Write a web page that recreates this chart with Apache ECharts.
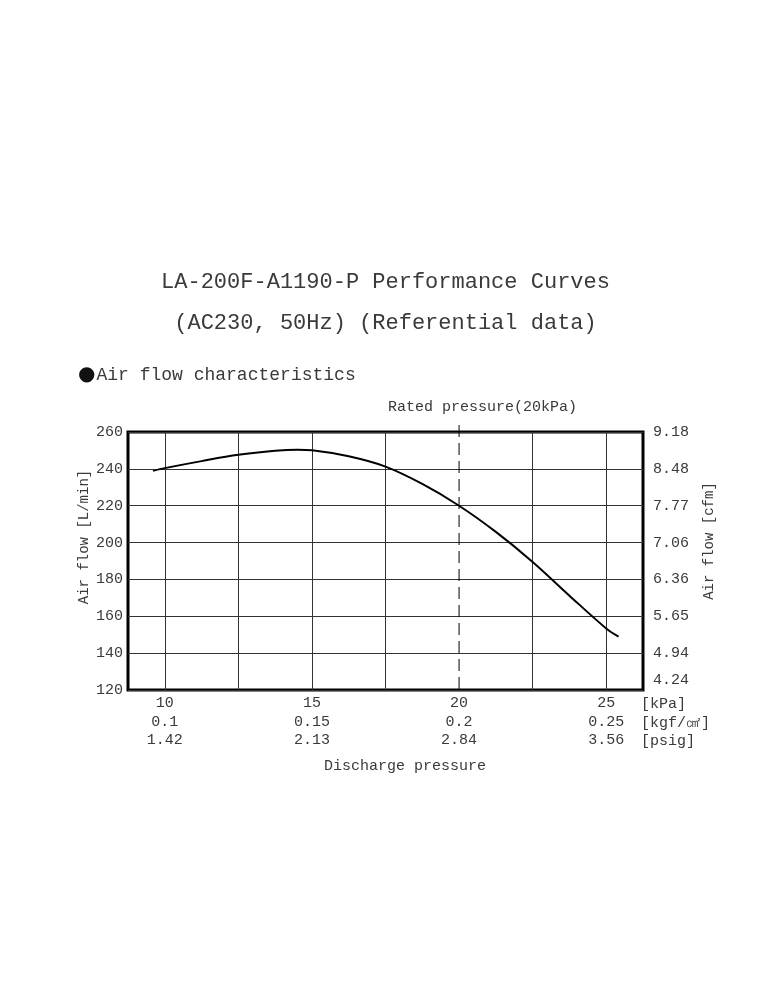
<!DOCTYPE html>
<html>
<head>
<meta charset="utf-8">
<script src="https://cdn.jsdelivr.net/npm/echarts@6/dist/echarts.min.js"></script>
<style>
html,body{margin:0;padding:0;background:#fff;}
#chart{width:771px;height:1000px;}
</style>
</head>
<body>
<div id="chart"></div>
<script>
// ---- data ----
const pressureKPa = [9.6, 10, 11.25, 12.5, 13.75, 14.5, 15, 16.25, 17.5, 18.75, 20, 21.25, 22.5, 23.75, 25, 25.42];
const airFlowLmin = [238.9, 240.4, 244.2, 247.6, 249.8, 250.4, 250.1, 246.8, 241.2, 231.8, 220, 205.8, 189.5, 171.2, 153.4, 149];
const xGridLines = [10, 12.5, 15, 17.5, 22.5, 25];
const xTickKPa = [10, 15, 20, 25];
const xTickKgf = ['0.1', '0.15', '0.2', '0.25'];
const xTickPsig = ['1.42', '2.13', '2.84', '3.56'];
const yLeftTicks = [120, 140, 160, 180, 200, 220, 240, 260];
const yRightLabels = ['4.24', '4.94', '5.65', '6.36', '7.06', '7.77', '8.48', '9.18'];
const ratedPressure = 20;
const ratedLine = [[ratedPressure, 0], [ratedPressure, 1]];

const FONT = '"Liberation Mono", "DejaVu Sans Mono", monospace';
const TXT = '#3a3a3a';

const chart = echarts.init(document.getElementById('chart'));
chart.setOption({
  backgroundColor: '#fff',
  animation: false,
  title: [
    {text: 'LA-200F-A1190-P Performance Curves', left: 'center', top: 266,
     textStyle: {fontFamily: FONT, fontSize: 22, fontWeight: 'normal', color: TXT}},
    {text: '(AC230, 50Hz) (Referential data)', left: 'center', top: 307,
     textStyle: {fontFamily: FONT, fontSize: 22, fontWeight: 'normal', color: TXT}},
    {text: '{b|●}Air flow characteristics', left: 73, top: 360,
     textStyle: {fontFamily: FONT, fontSize: 18, fontWeight: 'normal', color: TXT,
       rich: {b: {fontSize: 20, color: '#111', fontFamily: 'DejaVu Sans', padding: [0, 1, 0, 0]}}}},
    {text: 'Rated pressure(20kPa)', left: 383, top: 395,
     textStyle: {fontFamily: FONT, fontSize: 15, fontWeight: 'normal', color: TXT}},
    {text: '[kPa]\n[kgf/㎠]\n[psig]', left: 636, top: 690,
     textStyle: {fontFamily: FONT, fontSize: 15, fontWeight: 'normal', color: TXT, lineHeight: 18.5}},
    {text: 'Discharge pressure', left: 319, top: 754,
     textStyle: {fontFamily: FONT, fontSize: 15, fontWeight: 'normal', color: TXT}}
  ],
  graphic: [
    {type: 'text', x: 84, y: 537, rotation: Math.PI / 2,
     style: {text: 'Air flow [L/min]', font: '14px ' + FONT, fill: TXT, align: 'center', verticalAlign: 'middle'}},
    {type: 'text', x: 709, y: 541, rotation: Math.PI / 2,
     style: {text: 'Air flow [cfm]', font: '14px ' + FONT, fill: TXT, align: 'center', verticalAlign: 'middle'}}
  ],
  grid: [
    {left: 128, right: 128, top: 432, bottom: 310, show: true,
     borderColor: '#000', borderWidth: 3, backgroundColor: 'transparent'},
    {left: 128, right: 128, top: 422, bottom: 311, show: false}
  ],
  xAxis: [
    {
      type: 'value', min: 8.75, max: 26.25, interval: 1.25, gridIndex: 0,
      axisLine: {show: false}, axisTick: {show: false}, splitLine: {show: false},
      axisLabel: {
        showMinLabel: false, showMaxLabel: false, margin: 4,
        fontFamily: FONT, fontSize: 15, color: TXT, lineHeight: 18.5,
        formatter: function (v) {
          const i = xTickKPa.findIndex(t => Math.abs(t - v) < 1e-6);
          if (i < 0) return '';
          return xTickKPa[i] + '\n' + xTickKgf[i] + '\n' + xTickPsig[i];
        }
      }
    },
    {type: 'value', min: 8.75, max: 26.25, gridIndex: 1, show: false}
  ],
  yAxis: [
    {type: 'value', min: yLeftTicks[0], max: yLeftTicks[yLeftTicks.length - 1], interval: 20, gridIndex: 0,
     axisLine: {show: false}, axisTick: {show: false},
     splitLine: {show: true, lineStyle: {color: '#333', width: 1}},
     axisLabel: {margin: 5, fontFamily: FONT, fontSize: 15, color: TXT}},
    {type: 'value', min: yLeftTicks[0], max: yLeftTicks[yLeftTicks.length - 1], interval: 20, gridIndex: 0,
     axisLine: {show: false}, axisTick: {show: false}, splitLine: {show: false},
     axisLabel: {margin: 10, fontFamily: FONT, fontSize: 15, color: TXT,
       formatter: function (v) {
         const s = yRightLabels[Math.round((v - 120) / 20)];
         return v === yLeftTicks[0] ? '{up|' + s + '}' : s;
       },
       rich: {up: {fontFamily: FONT, fontSize: 15, color: TXT, padding: [0, 0, 20, 0]}}}},
    {type: 'value', min: 0, max: 1, gridIndex: 1, show: false}
  ],
  series: [
    {
      type: 'line', smooth: 0.35, symbol: 'none', z: 5,
      xAxisIndex: 0, yAxisIndex: 0,
      lineStyle: {color: '#000', width: 2},
      data: pressureKPa.map((x, i) => [x, airFlowLmin[i]]),
      markLine: {
        silent: true, symbol: 'none', label: {show: false},
        lineStyle: {color: '#333', width: 1, type: 'solid'},
        data: xGridLines.map(v => ({xAxis: v}))
      }
    },
    {
      type: 'line', symbol: 'none', z: 4, silent: true,
      xAxisIndex: 1, yAxisIndex: 2,
      lineStyle: {color: '#000', width: 1, type: [12, 6]},
      data: ratedLine
    }
  ]
});
</script>
</body>
</html>
